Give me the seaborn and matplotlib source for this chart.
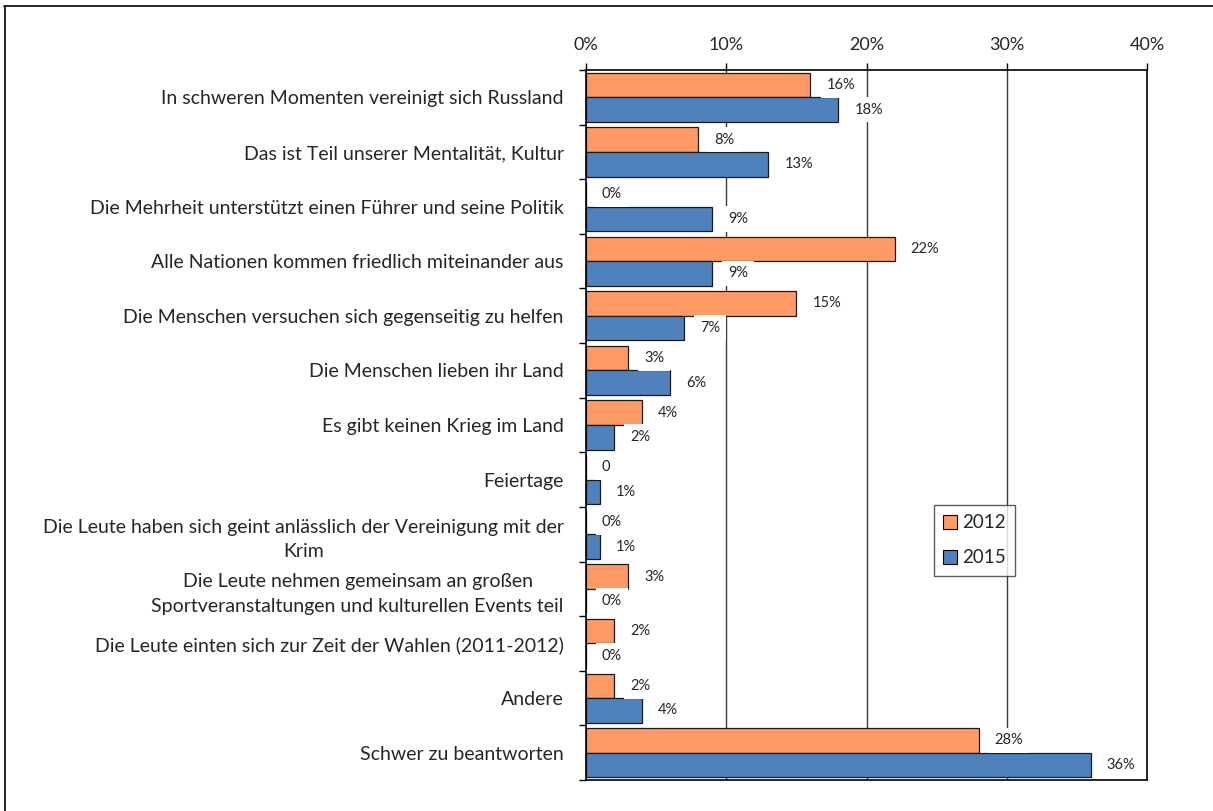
import matplotlib
matplotlib.use("Agg")
import matplotlib.pyplot as plt
import seaborn as sns
import pandas as pd
import numpy as np
from matplotlib.lines import Line2D

categories = [
    "In schweren Momenten vereinigt sich Russland",
    "Das ist Teil unserer Mentalität, Kultur",
    "Die Mehrheit unterstützt einen Führer und seine Politik",
    "Alle Nationen kommen friedlich miteinander aus",
    "Die Menschen versuchen sich gegenseitig zu helfen",
    "Die Menschen lieben ihr Land",
    "Es gibt keinen Krieg im Land",
    "Feiertage",
    "Die Leute haben sich geint anlässlich der Vereinigung mit der\nKrim",
    "Die Leute nehmen gemeinsam an großen\nSportveranstaltungen und kulturellen Events teil",
    "Die Leute einten sich zur Zeit der Wahlen (2011-2012)",
    "Andere",
    "Schwer zu beantworten",
]
values_2012 = [16, 8, 0, 22, 15, 3, 4, 0, 0, 3, 2, 2, 28]
values_2015 = [18, 13, 9, 9, 7, 6, 2, 1, 1, 0, 0, 4, 36]
labels_2012 = ["16%", "8%", "0%", "22%", "15%", "3%", "4%", "0", "0%", "3%", "2%", "2%", "28%"]
labels_2015 = ["18%", "13%", "9%", "9%", "7%", "6%", "2%", "1%", "1%", "0%", "0%", "4%", "36%"]
years = ["2012", "2015"]
xticks = [0, 10, 20, 30, 40]
xtick_labels = ["0%", "10%", "20%", "30%", "40%"]

colors = {"2012": "#FF9966", "2015": "#4F81BD"}

df = pd.DataFrame({
    "Kategorie": categories * 2,
    "Wert": values_2012 + values_2015,
    "Jahr": [years[0]] * len(categories) + [years[1]] * len(categories),
})

sns.set_theme(style="white")
plt.rcParams['font.family'] = ['Lato', 'DejaVu Sans']

fig = plt.figure(figsize=(12.13, 8.11), dpi=100)
ax = fig.add_axes([586 / 1213, 1 - 780 / 811, (1147 - 586) / 1213, (780 - 70) / 811])

sns.barplot(data=df, y="Kategorie", x="Wert", hue="Jahr", orient="h",
            palette=colors, width=0.9, edgecolor="#1a1a1a", linewidth=0.9,
            ax=ax, legend=True, saturation=1)

ax.set_xlim(0, 40)
ax.set_ylim(len(categories) - 0.5, -0.5)
ax.set_xticks(xticks)
ax.set_xticklabels(xtick_labels, fontsize=13)
ax.xaxis.tick_top()
ax.tick_params(axis="x", which="major", direction="out", length=5, width=1,
               color="black", pad=7, top=True, bottom=False)
ax.set_xlabel("")
ax.set_ylabel("")

ax.set_yticks(range(len(categories)))
ax.set_yticklabels(categories, fontsize=14)
ax.tick_params(axis="y", which="major", length=0, pad=16)
ax.set_yticks(np.arange(-0.5, len(categories), 1.0), minor=True)
ax.tick_params(axis="y", which="minor", direction="out", length=5, width=1, color="black", left=True)
for lbl in ax.get_yticklabels():
    lbl.set_multialignment("center")
    lbl.set_linespacing(1.55)

ax.set_axisbelow(True)
for x in xticks[1:-1]:
    ax.axvline(x, color="#3a3a3a", linewidth=1, zorder=0)

for s in ax.spines.values():
    s.set_visible(True)
    s.set_color("black")
    s.set_linewidth(1.2)

containers = ax.containers
for cont, labs in zip(containers, [labels_2012, labels_2015]):
    for bar, lab in zip(cont, labs):
        w = bar.get_width()
        yc = bar.get_y() + bar.get_height() / 2
        ax.annotate(lab, xy=(w, yc), xytext=(11.5, 0), textcoords="offset points",
                    ha="left", va="center", fontsize=10.5, zorder=5,
                    bbox=dict(boxstyle="square,pad=0.4", facecolor="white", edgecolor="none"))

leg = ax.legend(loc="upper left", bbox_to_anchor=((934 - 586) / 561, 1 - (505 - 70) / 710),
                borderaxespad=0, frameon=True, fontsize=13.5, handlelength=0.75, handleheight=0.75,
                handletextpad=0.25, labelspacing=0.95, borderpad=0.5, fancybox=False,
                title=None)
leg.get_frame().set_edgecolor("#333333")
leg.get_frame().set_linewidth(1.0)
for h in leg.legend_handles:
    h.set_edgecolor("black")
    h.set_linewidth(0.8)

# outer frame of the chart area
fig.add_artist(Line2D([4 / 1213, 1.0], [1 - 6 / 811, 1 - 6 / 811], transform=fig.transFigure,
                      color="black", linewidth=1.2))
fig.add_artist(Line2D([5 / 1213, 5 / 1213], [1 - 6 / 811, 0.0], transform=fig.transFigure,
                      color="black", linewidth=1.2))

fig.savefig("out.png", dpi=100, facecolor="white")
